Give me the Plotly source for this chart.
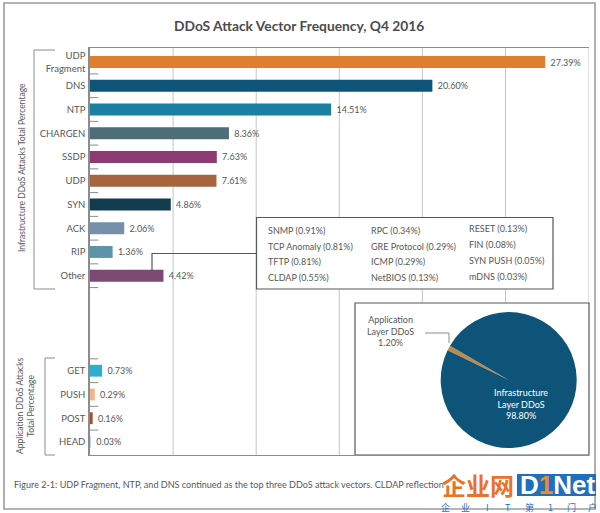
import plotly.graph_objects as go

categories = ["UDP<br>Fragment", "DNS", "NTP", "CHARGEN", "SSDP", "UDP", "SYN", "ACK", "RIP", "Other",
              " ", "  ", "   ", "GET", "PUSH", "POST", "HEAD"]
values = [27.39, 20.60, 14.51, 8.36, 7.63, 7.61, 4.86, 2.06, 1.36, 4.42,
          None, None, None, 0.73, 0.29, 0.16, 0.03]
colors = ["#DD7F2E", "#0E5478", "#1A7FA0", "#4D6E78", "#8E3A72", "#A5653F", "#123C4E", "#7590A8", "#5B93A8", "#7A4A72",
          "#fff", "#fff", "#fff", "#2EAFD0", "#EFB58E", "#A04E2E", "#BBD8E5"]
grid_values = [5, 10, 15, 20, 25, 30]
other_col1 = ["SNMP (0.91%)", "TCP Anomaly (0.81%)", "TFTP (0.81%)", "CLDAP (0.55%)"]
other_col2 = ["RPC (0.34%)", "GRE Protocol (0.29%)", "ICMP (0.29%)", "NetBIOS (0.13%)"]
other_col3 = ["RESET (0.13%)", "FIN (0.08%)", "SYN PUSH (0.05%)", "mDNS (0.03%)"]
pie_labels = ["Application Layer DDoS", "Infrastructure Layer DDoS"]
pie_values = [1.20, 98.80]
pie_colors = ["#C08A4A", "#0E5478"]
watermark_chars = ["企", "业", "I", "T", "第", "1", "门", "户"]

W, H = 600, 513
FONT = "Lato"
TXT = "#55585A"
LINE = "#8A8C8E"
def px(x): return x / W
def py(y): return 1 - y / H

fig = go.Figure()
texts = [None if v is None else f"\u00a0{v:.2f}%" for v in values]
fig.add_trace(go.Bar(y=categories, x=values, orientation="h", marker=dict(color=colors, line=dict(width=0)),
                     text=texts, textposition="outside", cliponaxis=False,
                     textfont=dict(family=FONT, size=9, color=TXT), hoverinfo="skip"))
cx, cy, r = 508.7, 380, 68
fig.add_trace(go.Pie(labels=pie_labels, values=pie_values, sort=False, direction="clockwise", rotation=296,
                     marker=dict(colors=pie_colors, line=dict(width=0)), textinfo="none", showlegend=False,
                     domain=dict(x=[px(cx - r), px(cx + r)], y=[py(cy + r), py(cy - r)])))

shapes = []
def rect(x0, y0, x1, y1, color="#6A6C6E", width=1.2, fill=None, layer="below"):
    shapes.append(dict(type="rect", xref="paper", yref="paper", x0=px(x0), x1=px(x1), y0=py(y0), y1=py(y1),
                       line=dict(color=color, width=width), fillcolor=fill, layer=layer))
def path(pts, color=LINE, width=1.0, layer="above"):
    d = "M" + " L".join(f"{px(a):.5f},{py(b):.5f}" for a, b in pts)
    shapes.append(dict(type="path", xref="paper", yref="paper", path=d, line=dict(color=color, width=width), layer=layer))

# outer frame
rect(4, 3, 595, 509, color="#9A9C9E", width=1.6)
# gridlines (drawn below so that the boxes hide them)
for g in grid_values:
    shapes.append(dict(type="line", xref="x", yref="paper", x0=g, x1=g, y0=py(455), y1=py(48),
                       line=dict(color="#C4C6C8", width=1), layer="below"))
# category ticks
for i in list(range(0, 10)) + list(range(12, 16)):
    shapes.append(dict(type="line", xref="x", yref="y", x0=0, x1=0.5, y0=i + 0.5, y1=i + 0.5,
                       line=dict(color=LINE, width=1), layer="above"))
# callout and inset boxes
rect(256.5, 217.5, 553, 289, color="#55575A", width=1.2, fill="white")
rect(355, 303, 589, 455, color="#55575A", width=1.2, fill="white")
# leader from Other bar to callout
path([(152, 272), (152, 253.5), (256.5, 253.5)], color="#55575A", width=1.2)
# brackets
path([(55, 50), (34, 50), (34, 289), (55, 289)])
path([(55, 358), (45, 358), (45, 455), (55, 455)])
# pie leader
path([(425, 333), (449, 333), (449, 343)])

ann = []
def t(x, y, s, size=9.5, color=TXT, anchor="left", bold=False, angle=0, **kw):
    ann.append(dict(xref="paper", yref="paper", x=px(x), y=py(y), text=f"<b>{s}</b>" if bold else s, showarrow=False,
                    xanchor=anchor, yanchor="middle", textangle=angle, align="center",
                    font=dict(family=kw.pop("family", FONT), size=size, color=color), **kw))

t(299, 25.5, "DDoS Attack Vector Frequency, Q4 2016", size=13.8, color="#4A4C4E", anchor="center", bold=True)
t(22, 168, "Infrastructure DDoS Attacks Total Percentage", size=8.5, anchor="center", angle=-90)
t(25, 406, "Application DDoS Attacks<br>Total Percentage", size=8.5, anchor="center", angle=-90)
for col, x, ys in [(other_col1, 265.5, (230, 246, 261, 277)), (other_col2, 368.5, (230, 246, 261, 277)), (other_col3, 466.5, (228, 244, 260, 276))]:
    for s, y in zip(col, ys):
        t(x, y, s, size=9)
t(391, 331, "Application<br>Layer DDoS<br>1.20%", size=9, anchor="center")
t(521, 404, "Infrastructure<br>Layer DDoS<br>98.80%", size=9, color="white", anchor="center")
t(12, 484, "Figure 2-1: UDP Fragment, NTP, and DNS continued as the top three DDoS attack vectors. CLDAP reflection", size=9.05)

# watermark
shapes.append(dict(type="rect", xref="paper", yref="paper", x0=px(517), x1=px(596), y0=py(474), y1=py(496),
                   fillcolor="#1F6FC0", line=dict(width=0), layer="above"))
t(478, 484, "企业网", size=24, color="#E9722A", anchor="center", bold=True, family="Noto Sans CJK SC")
t(557, 485, 'D<span style="color:#F08A24">1</span>Net', size=26, color="white", anchor="center", bold=True, family="Liberation Sans")
for ch, x in zip(watermark_chars, range(445, 610, 21)):
    t(x, 507, ch, size=9, color="#1F6FC0", anchor="center", family="Noto Sans CJK SC")

fig.update_layout(
    width=W, height=H, margin=dict(l=0, r=0, t=0, b=0), paper_bgcolor="white", plot_bgcolor="rgba(0,0,0,0)",
    bargap=0.5, showlegend=False, shapes=shapes, annotations=ann,
    xaxis=dict(domain=[px(90), px(588.6)], range=[0, 30], showgrid=False, zeroline=False, showticklabels=False,
               ticks="", showline=True, linecolor=LINE, linewidth=1, mirror=True),
    yaxis=dict(domain=[py(455), py(48)], type="category", categoryorder="array", categoryarray=categories,
               range=[16.55, -0.59], showgrid=False, zeroline=False, ticks="", showline=True, linecolor=LINE,
               linewidth=1.5, tickmode="array", tickvals=categories, ticktext=categories, ticklabelstandoff=1,
               tickfont=dict(family=FONT, size=9.5, color=TXT)),
)
fig.write_html("out.html", config=dict(displayModeBar=False),
               post_script="document.body.style.margin='0';document.body.style.overflow='hidden';")
